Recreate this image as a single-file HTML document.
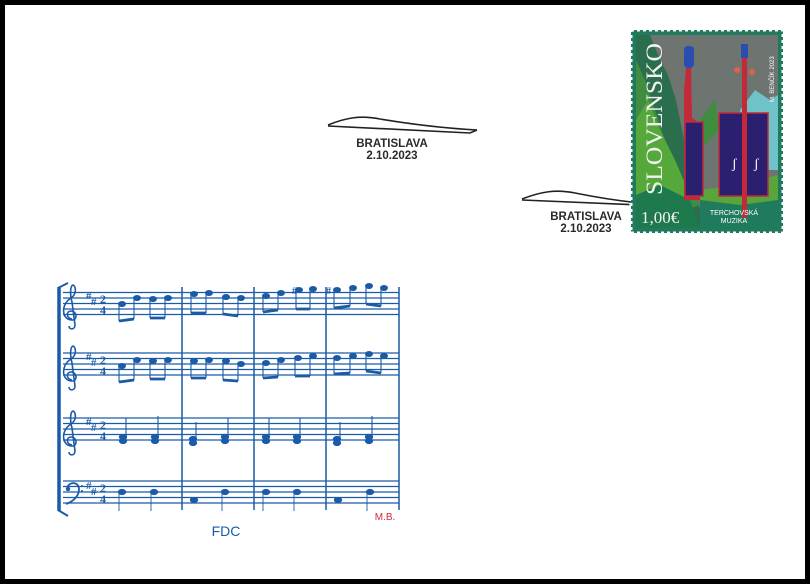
<!DOCTYPE html>
<html><head><meta charset="utf-8"><style>
html,body{margin:0;padding:0;background:#000;}
svg{display:block}
</style></head><body>
<svg width="810" height="584" viewBox="0 0 810 584" xmlns="http://www.w3.org/2000/svg">
<rect x="0" y="0" width="810" height="584" fill="#000"/>
<rect x="5" y="5" width="800" height="574" fill="#fff"/>

<!-- cancellations -->
<g fill="none" stroke="#222" stroke-width="1.6">
<path d="M328,125 C345,118 360,115 380,119 C410,124 440,128 477,130"/>
<path d="M328,126 L470,133 L477,130"/>
<path d="M522,199 C540,192 555,189 575,193 C600,198 620,201 640,203"/>
<path d="M522,200 L640,205"/>
</g>
<g font-family="'Liberation Sans',sans-serif" font-weight="bold" font-size="11.5" fill="#2a2a2a" text-anchor="middle">
<text x="392" y="147">BRATISLAVA</text><text x="392" y="159">2.10.2023</text>
<text x="586" y="220">BRATISLAVA</text><text x="586" y="232">2.10.2023</text>
</g>

<!-- stamp -->
<g>
<rect x="631" y="30" width="152" height="203" fill="#1f7a5e"/>
<rect x="636" y="35" width="142" height="193" fill="#6e7470"/>
<polygon points="636,35 650,35 660,60 668,75 676,100 682,130 690,170 700,210 720,228 636,228" fill="#2a6e4e"/>
<polygon points="636,60 645,80 655,110 665,140 680,175 700,205 636,228" fill="#3f8d3f"/>
<polygon points="636,120 648,100 660,130 675,160 690,195 636,210" fill="#55a83a"/>
<polygon points="700,120 715,100 719,130 700,150" fill="#3f8d3f"/>
<polygon points="740,110 755,90 770,100 778,95 778,170 740,170" fill="#6fc3c8"/>
<polygon points="700,190 740,185 778,175 778,228 700,228" fill="#5aa53a"/>
<polygon points="636,195 660,185 690,200 700,228 636,228" fill="#1e7a4c"/>
<polygon points="700,200 740,205 778,200 778,228 700,228" fill="#1f7a5e"/>
<!-- instruments -->
<rect x="684" y="46" width="10" height="22" rx="4" fill="#2a4db0"/>
<path d="M686,68 L691,68 L692,118 L700,124 L700,200 L684,200 L684,90 Z" fill="#c22a3a"/>
<rect x="685" y="122" width="18" height="74" fill="#2b2070" stroke="#c22a3a" stroke-width="1.5"/>
<rect x="719" y="113" width="49" height="83" fill="#2b2070" stroke="#c22a3a" stroke-width="1.5"/>
<rect x="742" y="48" width="5" height="170" fill="#c22a3a"/>
<rect x="741" y="44" width="7" height="14" fill="#2a4db0"/>
<circle cx="737" cy="70" r="3" fill="#e0604a"/><circle cx="752" cy="72" r="3" fill="#e0604a"/>
<text x="732" y="168" font-family="'Liberation Serif',serif" font-size="14" fill="#fff">ʃ</text>
<text x="754" y="168" font-family="'Liberation Serif',serif" font-size="14" fill="#fff">ʃ</text>
<text transform="translate(662,195) rotate(-90)" font-family="'Liberation Serif',serif" font-size="23" fill="#f2f2f2" textLength="152" lengthAdjust="spacingAndGlyphs">SLOVENSKO</text>
<text x="641" y="223" font-family="'Liberation Serif',serif" font-size="17" fill="#f2f2f2">1,00€</text>
<text x="734" y="215" font-family="'Liberation Sans',sans-serif" font-size="7" fill="#fff" text-anchor="middle">TERCHOVSKÁ</text>
<text x="734" y="223" font-family="'Liberation Sans',sans-serif" font-size="7" fill="#fff" text-anchor="middle">MUZIKA</text>
<text transform="translate(774,102) rotate(-90)" font-family="'Liberation Sans',sans-serif" font-size="6" fill="#fff">M. BENČÍK 2023</text>
<rect x="631" y="30" width="152" height="203" fill="none" stroke="#fff" stroke-width="3" stroke-dasharray="3 3"/>
</g>

<!-- music -->
<g stroke="#1a5aa8" fill="none" stroke-width="1.2">
<path d="M63,292.5H399M63,298H399M63,303.5H399M63,309H399M63,314.5H399"/>
<path d="M63,353H399M63,358.5H399M63,364H399M63,369.5H399M63,375H399"/>
<path d="M63,418H399M63,423.5H399M63,429H399M63,434.5H399M63,440H399"/>
<path d="M63,481H399M63,486.5H399M63,492H399M63,497.5H399M63,503H399"/>
<path d="M182,287V510M254,287V510M326,287V510M399,287V510" stroke-width="1.5"/>
<path d="M59,287V511" stroke-width="3.5"/>
<path d="M58,288 L68,283 M58,510 L68,516" stroke-width="2"/>
<path d="M72,319 C66,318 66,311 71,311 C77,311 78,320 72,320 C62,320 60,305 71,298 C77,294 76,286 73,285 C70,286 70,295 72,302 L75,325 C75,330 69,330 69,326" stroke-width="1.6"/>
<path d="M72,380 C66,379 66,372 71,372 C77,372 78,381 72,381 C62,381 60,366 71,359 C77,355 76,347 73,346 C70,347 70,356 72,363 L75,386 C75,391 69,391 69,387" stroke-width="1.6"/>
<path d="M72,445 C66,444 66,437 71,437 C77,437 78,446 72,446 C62,446 60,431 71,424 C77,420 76,412 73,411 C70,412 70,421 72,428 L75,451 C75,456 69,456 69,452" stroke-width="1.6"/>
<path d="M67,490 C67,481 79,481 79,489 C79,497 72,502 66,504" stroke-width="1.8"/>
</g>
<g fill="#1a5aa8" font-family="'Liberation Serif',serif" font-weight="bold">
<circle cx="68" cy="489" r="2.2"/><circle cx="82" cy="486" r="1"/><circle cx="82" cy="491" r="1"/>
<g font-size="11"><text x="86" y="299">#</text><text x="91" y="305">#</text>
<text x="86" y="360">#</text><text x="91" y="366">#</text>
<text x="86" y="425">#</text><text x="91" y="431">#</text>
<text x="86" y="489">#</text><text x="91" y="495">#</text></g>
<g font-size="12"><text x="100" y="303">2</text><text x="100" y="314">4</text>
<text x="100" y="364">2</text><text x="100" y="375">4</text>
<text x="100" y="429">2</text><text x="100" y="440">4</text>
<text x="100" y="492">2</text><text x="100" y="503">4</text></g>
<text x="292" y="294" font-size="10">#</text><text x="326" y="294" font-size="10">#</text>
</g>

<g fill="#1a5aa8" stroke="#1a5aa8" stroke-width="1.1">
<ellipse cx="122" cy="304" rx="3.4" ry="2.5"/><ellipse cx="137" cy="298" rx="3.4" ry="2.5"/>
<ellipse cx="153" cy="299" rx="3.4" ry="2.5"/><ellipse cx="168" cy="298" rx="3.4" ry="2.5"/>
<ellipse cx="194" cy="294" rx="3.4" ry="2.5"/><ellipse cx="209" cy="293" rx="3.4" ry="2.5"/>
<ellipse cx="226" cy="297" rx="3.4" ry="2.5"/><ellipse cx="241" cy="298" rx="3.4" ry="2.5"/>
<ellipse cx="266" cy="296" rx="3.4" ry="2.5"/><ellipse cx="281" cy="293" rx="3.4" ry="2.5"/>
<ellipse cx="299" cy="290" rx="3.4" ry="2.5"/><ellipse cx="313" cy="289" rx="3.4" ry="2.5"/>
<ellipse cx="337" cy="290" rx="3.4" ry="2.5"/><ellipse cx="353" cy="288" rx="3.4" ry="2.5"/>
<ellipse cx="369" cy="286" rx="3.4" ry="2.5"/><ellipse cx="384" cy="288" rx="3.4" ry="2.5"/>
<path d="M119,304V321M134,298V319M150,299V318M165,298V318M191,294V313M206,293V313M223,297V315M238,298V316M263,296V312M278,293V310M296,290V309M310,289V309M334,290V308M350,288V306M366,286V304M381,288V306" fill="none"/>
<path d="M119,321L134,319M150,318L165,318M191,313L206,313M223,314L238,316M263,312L278,310M296,309L310,309M334,308L350,306M366,304L381,306" stroke-width="2.8" fill="none"/>
<ellipse cx="122" cy="366" rx="3.4" ry="2.5"/><ellipse cx="137" cy="360" rx="3.4" ry="2.5"/>
<ellipse cx="153" cy="361" rx="3.4" ry="2.5"/><ellipse cx="168" cy="360" rx="3.4" ry="2.5"/>
<ellipse cx="194" cy="361" rx="3.4" ry="2.5"/><ellipse cx="209" cy="360" rx="3.4" ry="2.5"/>
<ellipse cx="226" cy="361" rx="3.4" ry="2.5"/><ellipse cx="241" cy="364" rx="3.4" ry="2.5"/>
<ellipse cx="266" cy="363" rx="3.4" ry="2.5"/><ellipse cx="281" cy="360" rx="3.4" ry="2.5"/>
<ellipse cx="298" cy="358" rx="3.4" ry="2.5"/><ellipse cx="313" cy="356" rx="3.4" ry="2.5"/>
<ellipse cx="337" cy="358" rx="3.4" ry="2.5"/><ellipse cx="353" cy="356" rx="3.4" ry="2.5"/>
<ellipse cx="369" cy="354" rx="3.4" ry="2.5"/><ellipse cx="384" cy="356" rx="3.4" ry="2.5"/>
<path d="M119,366V382M134,360V380M150,361V379M165,360V379M191,361V378M206,360V378M223,361V380M238,364V381M263,363V378M278,360V377M295,358V376M310,356V376M334,358V374M350,356V373M366,354V371M381,356V373" fill="none"/>
<path d="M119,382L134,380M150,379L165,379M191,378L206,378M223,380L238,381M263,378L278,377M295,376L310,376M334,374L350,373M366,371L381,373" stroke-width="2.8" fill="none"/>
<g>
<ellipse cx="123" cy="441" rx="3.6" ry="2.6"/><ellipse cx="123" cy="437" rx="3.6" ry="2.6"/>
<ellipse cx="155" cy="441" rx="3.6" ry="2.6"/><ellipse cx="155" cy="437" rx="3.6" ry="2.6"/>
<ellipse cx="193" cy="443" rx="3.6" ry="2.6"/><ellipse cx="193" cy="439" rx="3.6" ry="2.6"/>
<ellipse cx="225" cy="441" rx="3.6" ry="2.6"/><ellipse cx="225" cy="437" rx="3.6" ry="2.6"/>
<ellipse cx="266" cy="441" rx="3.6" ry="2.6"/><ellipse cx="266" cy="437" rx="3.6" ry="2.6"/>
<ellipse cx="297" cy="441" rx="3.6" ry="2.6"/><ellipse cx="297" cy="437" rx="3.6" ry="2.6"/>
<ellipse cx="337" cy="443" rx="3.6" ry="2.6"/><ellipse cx="337" cy="439" rx="3.6" ry="2.6"/>
<ellipse cx="369" cy="441" rx="3.6" ry="2.6"/><ellipse cx="369" cy="437" rx="3.6" ry="2.6"/>
<path d="M126,437V418M158,437V416M196,439V422M228,437V418M269,437V418M300,437V418M340,439V422M372,437V416" fill="none"/>
</g>
<ellipse cx="122" cy="492" rx="3.6" ry="2.6"/><ellipse cx="154" cy="492" rx="3.6" ry="2.6"/>
<ellipse cx="194" cy="500" rx="3.6" ry="2.6"/><ellipse cx="225" cy="492" rx="3.6" ry="2.6"/>
<ellipse cx="266" cy="492" rx="3.6" ry="2.6"/><ellipse cx="297" cy="492" rx="3.6" ry="2.6"/>
<ellipse cx="338" cy="500" rx="3.6" ry="2.6"/><ellipse cx="370" cy="492" rx="3.6" ry="2.6"/>
<path d="M119,492V511M151,492V511M222,492V511M263,492V511M294,492V511M367,492V511" fill="none" stroke-width="0.9"/>
</g>

<text x="226" y="536" font-family="'Liberation Sans',sans-serif" font-size="14" fill="#1a5aa8" text-anchor="middle">FDC</text>
<text x="385" y="520" font-family="'Liberation Sans',sans-serif" font-size="10" fill="#d8283a" text-anchor="middle">M.B.</text>
</svg>
</body></html>
